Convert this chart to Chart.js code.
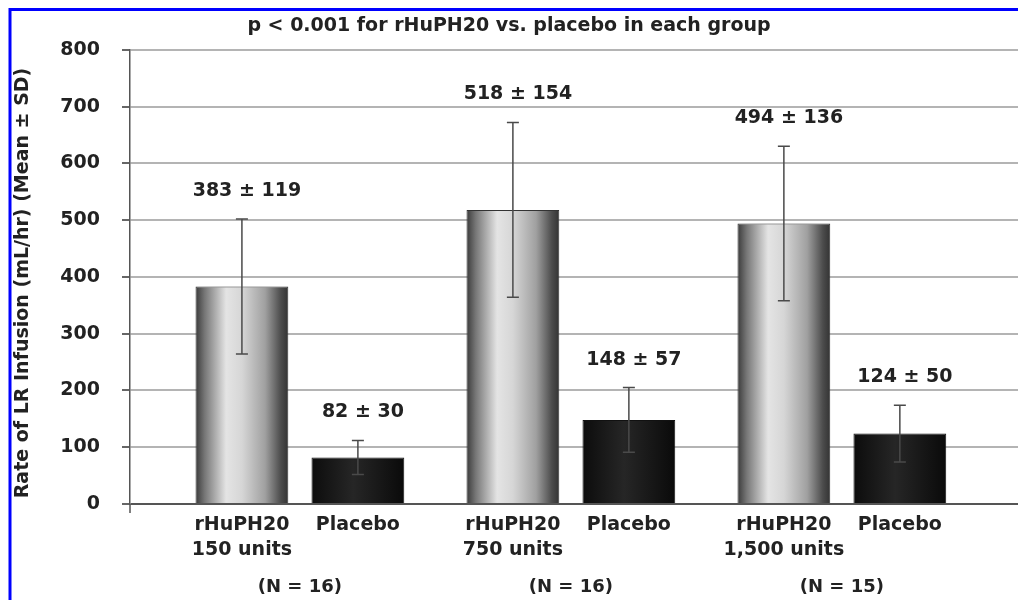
<!DOCTYPE html>
<html>
<head>
<meta charset="utf-8">
<script src="https://cdn.jsdelivr.net/npm/chart.js@4.4.0/dist/chart.umd.min.js"></script>
<style>
  html, body { margin: 0; padding: 0; background: #fff; }
  #wrap { width: 1018px; height: 600px; }
</style>
</head>
<body>
<div id="wrap"><canvas id="chart" width="1018" height="600"></canvas></div>
<script>
// Data
const doseLabels = ['150 units', '750 units', '1,500 units'];
const groupN = ['(N = 16)', '(N = 16)', '(N = 15)'];
const rhuMeans = [383, 518, 494];
const rhuSD = [119, 154, 136];
const placeboMeans = [82, 148, 124];
const placeboSD = [30, 57, 50];
const yMax = 800;
const yStep = 100;

const FONT = 'DejaVu Sans';
const TEXT = '#222';

function barGradient(stops, fallback) {
    return (c) => {
        const el = c.element;
        if (!el || !isFinite(el.x) || !el.width) return fallback;
        const g = c.chart.ctx.createLinearGradient(el.x - el.width / 2, 0, el.x + el.width / 2, 0);
        stops.forEach(([p, col]) => g.addColorStop(p, col));
        return g;
    };
}

// Error bars, value labels and category labels
const annotations = {
    id: 'annotations',
    afterDatasetsDraw(chart) {
        const ctx = chart.ctx;
        const y = chart.scales.y;
        const sds = [rhuSD, placeboSD];
        ctx.save();
        chart.data.datasets.forEach((ds, di) => {
            chart.getDatasetMeta(di).data.forEach((bar, i) => {
                const mean = ds.data[i].y;
                const sd = sds[di][i];
                const top = y.getPixelForValue(mean + sd);
                const bottom = y.getPixelForValue(mean - sd);
                ctx.strokeStyle = '#4a4a4a';
                ctx.lineWidth = 1.5;
                ctx.beginPath();
                ctx.moveTo(bar.x, top);
                ctx.lineTo(bar.x, bottom);
                ctx.moveTo(bar.x - 6, top);
                ctx.lineTo(bar.x + 6, top);
                ctx.moveTo(bar.x - 6, bottom);
                ctx.lineTo(bar.x + 6, bottom);
                ctx.stroke();

                ctx.fillStyle = TEXT;
                ctx.font = `bold 19px "${FONT}"`;
                ctx.textAlign = 'center';
                ctx.textBaseline = 'middle';
                ctx.fillText(`${mean} ± ${sd}`, bar.x + 5, top - 28);
            });
        });
        ctx.restore();
    },
    afterDraw(chart) {
        const ctx = chart.ctx;
        const area = chart.chartArea;
        const x = chart.scales.x;
        ctx.save();
        ctx.fillStyle = TEXT;
        ctx.textAlign = 'center';
        ctx.textBaseline = 'middle';
        ctx.font = `bold 19px "${FONT}"`;
        const rhuMeta = chart.getDatasetMeta(0).data;
        const plaMeta = chart.getDatasetMeta(1).data;
        doseLabels.forEach((dose, i) => {
            ctx.fillText('rHuPH20', rhuMeta[i].x, area.bottom + 21);
            ctx.fillText(dose, rhuMeta[i].x, area.bottom + 46);
            ctx.fillText('Placebo', plaMeta[i].x, area.bottom + 21);
        });
        ctx.font = `bold 18px "${FONT}"`;
        groupN.forEach((n, i) => {
            ctx.fillText(n, x.getPixelForValue(i), area.bottom + 83);
        });

        // y axis title
        ctx.translate(23, 283);
        ctx.rotate(-Math.PI / 2);
        ctx.font = `bold 19px "${FONT}"`;
        ctx.fillText('Rate of LR Infusion (mL/hr) (Mean ± SD)', 0, 0);
        ctx.restore();

        // the y axis runs a little below the zero line
        ctx.save();
        ctx.strokeStyle = '#555';
        ctx.lineWidth = 1.5;
        ctx.beginPath();
        ctx.moveTo(area.left, area.bottom);
        ctx.lineTo(area.left, area.bottom + 9);
        ctx.stroke();

        // blue frame
        ctx.strokeStyle = '#0000ff';
        ctx.lineWidth = 3;
        ctx.beginPath();
        ctx.moveTo(10, 600);
        ctx.lineTo(10, 9.5);
        ctx.lineTo(1018, 9.5);
        ctx.stroke();
        ctx.restore();
    }
};

const chart = new Chart(document.getElementById('chart'), {
    type: 'bar',
    data: {
        datasets: [
            {
                label: 'rHuPH20',
                data: rhuMeans.map((v, i) => ({ x: i, y: v })),
                backgroundColor: barGradient([
                    [0, '#3a3a3a'], [0.1, '#777'], [0.33, '#e4e4e4'], [0.5, '#d6d6d6'],
                    [0.75, '#a0a0a0'], [0.92, '#4c4c4c'], [1, '#333']
                ], '#aaa'),
                borderColor: '#333',
                borderWidth: 1
            },
            {
                label: 'Placebo',
                data: placeboMeans.map((v, i) => ({ x: i, y: v })),
                backgroundColor: barGradient([
                    [0, '#0c0c0c'], [0.45, '#262626'], [1, '#0a0a0a']
                ], '#1a1a1a'),
                borderColor: '#111',
                borderWidth: 1
            }
        ]
    },
    options: {
        responsive: false,
        animation: false,
        categoryPercentage: 0.856,
        barPercentage: 0.8,
        layout: { padding: 0 },
        plugins: {
            legend: { display: false },
            tooltip: { enabled: false },
            title: {
                display: true,
                text: 'p < 0.001 for rHuPH20 vs. placebo in each group',
                color: TEXT,
                font: { family: FONT, size: 19, weight: 'bold' },
                padding: { top: 15, bottom: 12 }
            }
        },
        scales: {
            x: {
                type: 'linear',
                min: -0.627,
                max: 2.65,
                offset: false,
                grid: { display: false, offset: false },
                border: { display: false },
                ticks: { display: false },
                afterBuildTicks(scale) {
                    scale.ticks = doseLabels.map((_, i) => ({ value: i }));
                },
                afterFit(scale) {
                    scale.height = 96;
                }
            },
            y: {
                min: 0,
                max: yMax,
                ticks: {
                    stepSize: yStep,
                    padding: 22,
                    color: TEXT,
                    font: { family: FONT, size: 19, weight: 'bold' }
                },
                grid: {
                    color: (c) => c.tick && c.tick.value === 0 ? '#555' : '#b4b4b4',
                    lineWidth: 2,
                    tickLength: 8,
                    tickColor: '#666'
                },
                border: { display: true, color: '#555', width: 1.5 },
                afterFit(scale) {
                    scale.width = 130;
                }
            }
        }
    },
    plugins: [annotations]
});
// second pass so the bar gradients can use the laid-out bar positions
chart.update();
</script>
</body>
</html>
